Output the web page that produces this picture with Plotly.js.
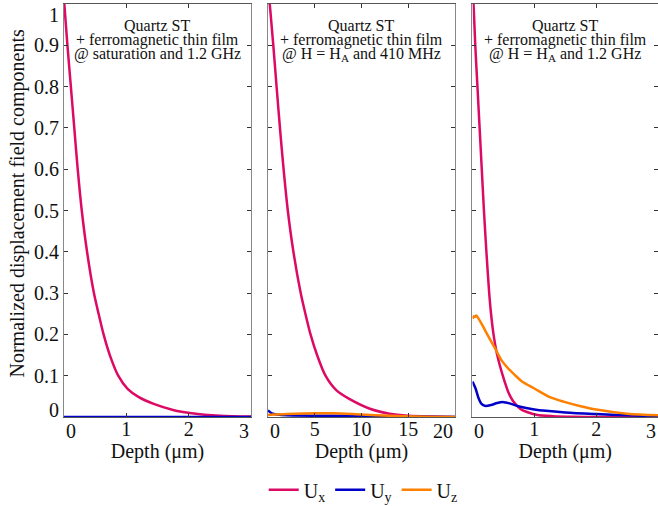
<!DOCTYPE html>
<html>
<head>
<meta charset="utf-8">
<script src="https://cdn.plot.ly/plotly-3.0.1.min.js"></script>
<style>
html,body{margin:0;padding:0;background:#fff;overflow:hidden;}
#chart{width:658px;height:506px;}
</style>
</head>
<body>
<div id="chart"></div>
<script>
// ---- Data ----
// Panel 1: saturation, 1.2 GHz (depth in µm)
const p1Depth = [0, 0.055, 0.11, 0.165, 0.22, 0.285, 0.37, 0.48, 0.555, 0.635, 0.735, 0.87, 1.02, 1.2, 1.45, 1.75, 2.05, 2.5, 3.0];
const p1Ux    = [1.01, 0.9, 0.8, 0.7, 0.6, 0.5, 0.4, 0.3, 0.25, 0.2, 0.15, 0.1, 0.068, 0.048, 0.031, 0.017, 0.009, 0.003, 0.001];
const p1UyDepth = [0, 1, 2, 3];
const p1Uy      = [0, 0, 0, 0];

// Panel 2: H = HA, 410 MHz
const p2Depth = [0, 0.57, 0.92, 1.28, 1.67, 2.12, 2.72, 3.5, 4.0, 4.55, 5.25, 6.15, 7.3, 8.6, 10.9, 13, 15, 17.5, 20];
const p2Ux    = [1.05, 0.9, 0.8, 0.7, 0.6, 0.5, 0.4, 0.3, 0.25, 0.2, 0.15, 0.1, 0.065, 0.045, 0.02, 0.008, 0.003, 0.001, 0];
const p2UyDepth = [0, 0.4, 1, 2, 5, 8, 10, 15, 20];
const p2Uy      = [0.016, 0.009, 0.006, 0.004, 0.003, 0.003, 0.002, 0.001, 0];
const p2UzDepth = [0, 2, 5, 7, 10, 13, 16, 20];
const p2Uz      = [0.005, 0.007, 0.009, 0.009, 0.006, 0.003, 0.001, 0];

// Panel 3: H = HA, 1.2 GHz
const p3UxDepth = [0, 0.045, 0.08, 0.115, 0.15, 0.185, 0.225, 0.27, 0.3, 0.34, 0.4, 0.49, 0.58, 0.65, 0.77, 0.88, 1.05, 1.3, 1.6, 3.0];
const p3Ux      = [1.06, 0.9, 0.8, 0.7, 0.6, 0.5, 0.4, 0.3, 0.25, 0.2, 0.15, 0.1, 0.06, 0.04, 0.02, 0.012, 0.005, 0.002, 0.0005, 0];
const p3UyDepth = [0, 0.05, 0.1, 0.15, 0.2, 0.3, 0.4, 0.5, 0.6, 0.74, 1.0, 1.5, 2.0, 2.5, 3.0];
const p3Uy      = [0.086, 0.069, 0.045, 0.031, 0.027, 0.029, 0.034, 0.036, 0.033, 0.026, 0.018, 0.011, 0.007, 0.004, 0.002];
const p3UzDepth = [0, 0.02, 0.04, 0.06, 0.09, 0.15, 0.25, 0.366, 0.47, 0.58, 0.69, 0.8, 1.0, 1.25, 1.5, 1.75, 2.0, 2.5, 3.0];
const p3Uz      = [0.238, 0.244, 0.242, 0.246, 0.24, 0.225, 0.197, 0.166, 0.137, 0.117, 0.101, 0.086, 0.069, 0.048, 0.036, 0.026, 0.018, 0.008, 0.004];

const seriesNames = ['U<sub>x</sub>', 'U<sub>y</sub>', 'U<sub>z</sub>'];
const panelLine1 = ['Quartz ST', 'Quartz ST', 'Quartz ST'];
const panelLine2 = ['+ ferromagnetic thin film', '+ ferromagnetic thin film', '+ ferromagnetic thin film'];
const panelLine3 = ['@ saturation and 1.2 GHz', '@ H = H<sub>A</sub> and 410 MHz', '@ H = H<sub>A</sub> and 1.2 GHz'];
const xTitle = 'Depth (μm)';
const yTitle = 'Normalized displacement field components';
const xTicks1 = [0, 1, 2, 3];
const xTicks2 = [0, 5, 10, 15, 20];
const xTicks3 = [0, 1, 2, 3];
const yTicks = [0, 0.1, 0.2, 0.3, 0.4, 0.5, 0.6, 0.7, 0.8, 0.9, 1];

// ---- Styling ----
const colUx = '#dc0a64', colUy = '#0000c8', colUz = '#ff8000';
const LW = 2.5;
const FONT = 'Times New Roman';
const TXT = '#111';
const FS = 20;

function tr(x, y, name, color, xa, ya, show) {
  return {x: x, y: y, name: name, type: 'scatter', mode: 'lines',
    line: {color: color, width: LW, shape: 'spline', smoothing: 0.8},
    xaxis: xa, yaxis: ya, showlegend: show, hoverinfo: 'skip'};
}

const data = [
  tr(p1Depth, p1Ux, seriesNames[0], colUx, 'x', 'y', true),
  tr(p1UyDepth, p1Uy, seriesNames[1], colUy, 'x', 'y', true),
  tr(p2Depth, p2Ux, seriesNames[0], colUx, 'x2', 'y2', false),
  tr(p2UyDepth, p2Uy, seriesNames[1], colUy, 'x2', 'y2', false),
  tr(p2UzDepth, p2Uz, seriesNames[2], colUz, 'x2', 'y2', true),
  tr(p3UxDepth, p3Ux, seriesNames[0], colUx, 'x3', 'y3', false),
  tr(p3UyDepth, p3Uy, seriesNames[1], colUy, 'x3', 'y3', false),
  tr(p3UzDepth, p3Uz, seriesNames[2], colUz, 'x3', 'y3', false)
];

// inner tick labels drawn by the axis, end labels drawn aligned inward (as in the reference)
function innerText(ticks) {
  return ticks.map((v, i) => (i === 0 || i === ticks.length - 1) ? '' : String(v));
}

function xax(domain, ticks, anchor) {
  return {domain: domain, range: [ticks[0], ticks[ticks.length - 1]], anchor: anchor,
    tickvals: ticks, ticktext: innerText(ticks),
    ticks: 'inside', ticklen: 4, tickcolor: '#333', mirror: 'ticks',
    showline: true, linecolor: '#555', linewidth: 1, showgrid: false, zeroline: false,
    ticklabeloverflow: 'allow', ticklabelstandoff: -6,
    tickfont: {family: FONT, size: FS, color: TXT},
    title: {text: xTitle, font: {family: FONT, size: FS, color: TXT}, standoff: 2}};
}
function yax(anchor, labels) {
  return {domain: [0, 1], range: [yTicks[0], yTicks[yTicks.length - 1]], anchor: anchor,
    tickvals: yTicks, ticktext: innerText(yTicks),
    ticks: 'inside', ticklen: 4, tickcolor: '#333', mirror: 'ticks',
    showline: true, linecolor: '#888', linewidth: 1, showgrid: false, zeroline: false,
    showticklabels: labels, ticklabeloverflow: 'allow',
    tickfont: {family: FONT, size: FS, color: TXT}};
}

const doms = [[0, 0.3148], [0.3434, 0.6582], [0.6877, 1.0]];
const xaKeys = ['x', 'x2', 'x3'];
const xTickSets = [xTicks1, xTicks2, xTicks3];
const annotations = [];
const tf = {family: FONT, size: FS, color: TXT};
for (let i = 0; i < 3; i++) {
  const ref = xaKeys[i] + ' domain';
  const lines = [panelLine1[i], panelLine2[i], panelLine3[i]];
  const ys = [0.949, 0.913, 0.878];
  for (let k = 0; k < 3; k++) {
    annotations.push({xref: ref, yref: 'paper', x: 0.5, y: ys[k], xanchor: 'center', yanchor: 'middle',
      text: lines[k], showarrow: false, font: {family: FONT, size: 16, color: TXT}});
  }
  // end tick labels of the x axis
  const t = xTickSets[i];
  annotations.push({xref: xaKeys[i], yref: 'paper', x: t[0], y: 0, xanchor: 'left', yanchor: 'top', yshift: -1,
    text: String(t[0]), showarrow: false, font: tf});
  annotations.push({xref: xaKeys[i], yref: 'paper', x: t[t.length - 1], y: 0, xanchor: 'right', yanchor: 'top', yshift: -1,
    text: String(t[t.length - 1]), showarrow: false, font: tf});
}
// end tick labels of the y axis
annotations.push({xref: 'paper', yref: 'y', x: 0, y: yTicks[0], xanchor: 'right', yanchor: 'bottom', xshift: -3, yshift: -6,
  text: String(yTicks[0]), showarrow: false, font: tf});
annotations.push({xref: 'paper', yref: 'y', x: 0, y: yTicks[yTicks.length - 1], xanchor: 'right', yanchor: 'top', xshift: -3, yshift: 2,
  text: String(yTicks[yTicks.length - 1]), showarrow: false, font: tf});
// y-axis title
annotations.push({xref: 'paper', yref: 'paper', x: -0.0791, y: 0.517, xanchor: 'center', yanchor: 'middle',
  textangle: -90, text: yTitle, showarrow: false, font: tf});

const layout = {
  width: 658, height: 506,
  margin: {l: 64, r: 0, t: 4, b: 89},
  paper_bgcolor: '#fff', plot_bgcolor: '#fff',
  xaxis: xax(doms[0], xTicks1, 'y'),
  xaxis2: xax(doms[1], xTicks2, 'y2'),
  xaxis3: xax(doms[2], xTicks3, 'y3'),
  yaxis: yax('x', true),
  yaxis2: yax('x2', false),
  yaxis3: yax('x3', false),
  legend: {orientation: 'h', xref: 'container', yref: 'container', x: 0.552, y: 0.032,
    xanchor: 'center', yanchor: 'middle', font: {family: FONT, size: FS, color: TXT},
    bgcolor: 'rgba(0,0,0,0)', itemwidth: 30},
  annotations: annotations,
  showlegend: true
};

Plotly.newPlot('chart', data, layout, {displayModeBar: false});
</script>
</body>
</html>
